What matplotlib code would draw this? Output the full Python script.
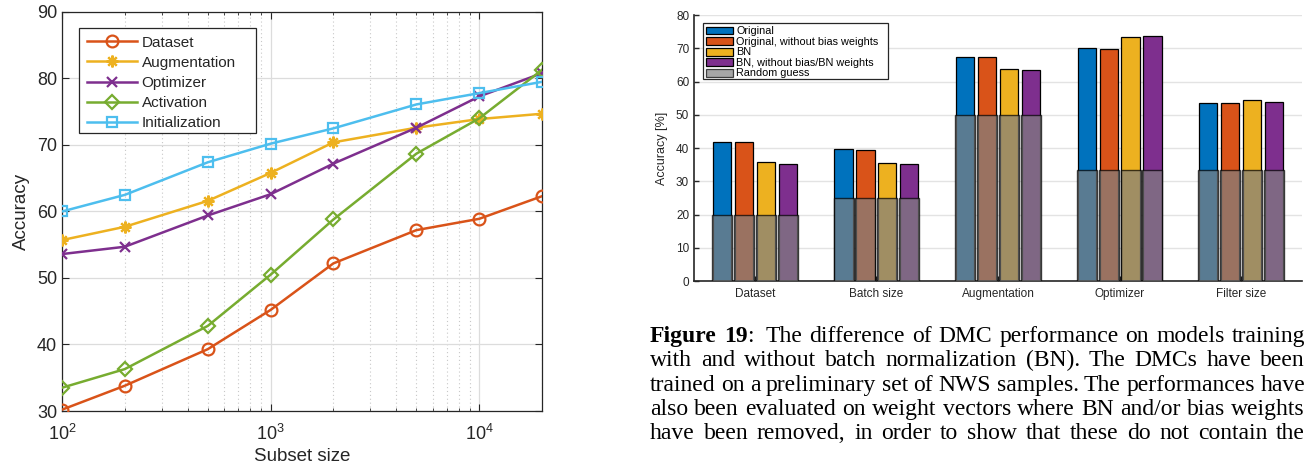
import matplotlib
matplotlib.use("Agg")
import matplotlib.pyplot as plt
from matplotlib.patches import Patch, Rectangle
from matplotlib.ticker import LogLocator, NullFormatter, FixedLocator

plt.rcParams['font.family'] = ['Liberation Sans', 'DejaVu Sans']
plt.rcParams['mathtext.fontset'] = 'custom'
plt.rcParams['mathtext.rm'] = 'Liberation Sans'
plt.rcParams['mathtext.it'] = 'Liberation Sans:italic'
plt.rcParams['mathtext.bf'] = 'Liberation Sans:bold'

# ---------------- data: accuracy vs. subset size ----------------
subset_sizes = [100, 200, 500, 1000, 2000, 5000, 10000, 20000]
acc_dataset = [30.2, 33.8, 39.3, 45.2, 52.2, 57.2, 58.9, 62.3]
acc_augmentation = [55.7, 57.7, 61.6, 65.8, 70.4, 72.6, 73.9, 74.7]
acc_optimizer = [53.6, 54.7, 59.4, 62.6, 67.2, 72.6, 77.3, 80.8]
acc_activation = [33.5, 36.3, 42.8, 50.5, 58.8, 68.7, 74.0, 81.3]
acc_initialization = [60.0, 62.5, 67.4, 70.2, 72.5, 76.1, 77.8, 79.5]
line_labels = ['Dataset', 'Augmentation', 'Optimizer', 'Activation', 'Initialization']

# ---------------- data: batch normalization comparison ----------------
hyperparams = ['Dataset', 'Batch size', 'Augmentation', 'Optimizer', 'Filter size']
acc_original = [41.9, 39.7, 67.3, 70.0, 53.4]
acc_original_nobias = [41.8, 39.5, 67.3, 69.9, 53.4]
acc_bn = [35.7, 35.4, 63.8, 73.5, 54.5]
acc_bn_nobias = [35.2, 35.1, 63.5, 73.7, 53.7]
random_guess = [20.0, 25.0, 50.0, 33.3, 33.3]
bar_labels = ['Original', 'Original, without bias weights', 'BN',
              'BN, without bias/BN weights', 'Random guess']

caption_lines = [
    "Figure 19: The difference of DMC performance on models training",
    "with and without batch normalization (BN). The DMCs have been",
    "trained on a preliminary set of NWS samples. The performances have",
    "also been evaluated on weight vectors where BN and/or bias weights",
    "have been removed, in order to show that these do not contain the",
]

W, H = 1314, 469
fig = plt.figure(figsize=(W / 100, H / 100), dpi=100)

AX_COLOR = '#262626'
C_BLUE, C_ORANGE, C_YELLOW, C_PURPLE = '#0072BD', '#D95319', '#EDB120', '#7E2F8E'
C_GREEN, C_CYAN = '#77AC30', '#4DBEEE'


def px_rect(x0, y0, x1, y1):
    return [x0 / W, 1 - y1 / H, (x1 - x0) / W, (y1 - y0) / H]


def legend_box(ax, x0, y0, x1, y1, lw=0.9):
    # rectangular legend frame given in pixel coordinates (top-left origin)
    ax.add_patch(Rectangle((x0 / W, 1 - y1 / H), (x1 - x0) / W, (y1 - y0) / H,
                           transform=fig.transFigure, facecolor='white',
                           edgecolor=AX_COLOR, linewidth=lw, zorder=4, clip_on=False))


# ================= left panel =================
ax1 = fig.add_axes(px_rect(62, 12, 542, 411))
series = [
    (acc_dataset, C_ORANGE, 'o', 8.5),
    (acc_augmentation, C_YELLOW, (8, 2, 0), 8.5),
    (acc_optimizer, C_PURPLE, 'x', 6.5),
    (acc_activation, C_GREEN, 'D', 7.0),
    (acc_initialization, C_CYAN, 's', 7.0),
]
for (vals, col, mk, ms), lab in zip(series, line_labels):
    ax1.plot(subset_sizes, vals, color=col, lw=1.8, marker=mk, ms=ms,
             mfc='none', mec=col, mew=1.6, label=lab, zorder=3)

ax1.set_xscale('log')
ax1.set_xlim(100, 20000)
ax1.set_ylim(30, 90)
ax1.set_yticks(range(30, 91, 10))
ax1.xaxis.set_major_locator(FixedLocator([1e2, 1e3, 1e4]))
ax1.set_xticklabels(['$10^{2}$', '$10^{3}$', '$10^{4}$'])
ax1.xaxis.set_minor_locator(LogLocator(base=10, subs=range(2, 10), numticks=20))
ax1.xaxis.set_minor_formatter(NullFormatter())
ax1.grid(True, which='major', color='#DCDCDC', lw=0.9, ls='-', zorder=0)
ax1.grid(True, which='minor', axis='x', color='#C8C8C8', lw=0.8, ls=(0, (1, 2.5)), zorder=0)
ax1.set_axisbelow(True)
ax1.tick_params(which='both', direction='in', top=True, right=True, color=AX_COLOR,
                labelcolor=AX_COLOR, labelsize=13)
ax1.tick_params(which='major', length=5, width=0.8)
ax1.tick_params(which='minor', length=2.5, width=0.6)
ax1.tick_params(axis='x', which='major', pad=9)
for sp in ax1.spines.values():
    sp.set_color(AX_COLOR)
    sp.set_linewidth(0.9)
ax1.set_xlabel('Subset size', fontsize=13.5, color=AX_COLOR, labelpad=3)
ax1.set_ylabel('Accuracy', fontsize=13.5, color=AX_COLOR, labelpad=5)

legend_box(ax1, 79, 28, 256, 133)
leg1 = ax1.legend(loc='upper left', bbox_to_anchor=(79 / W, 1 - 28 / H),
                  bbox_transform=fig.transFigure, borderaxespad=0, fontsize=11,
                  handlelength=3.3, handletextpad=0.3, labelspacing=0.4,
                  borderpad=0.5, frameon=False)
leg1.set_zorder(5)
for t in leg1.get_texts():
    t.set_color(AX_COLOR)

# ================= right panel =================
ax2 = fig.add_axes(px_rect(694, 15, 1302, 281))
xpos = list(range(1, len(hyperparams) + 1))
offsets = [-0.27, -0.09, 0.09, 0.27]
bar_w = 0.15
for vals, col, off, lab in zip([acc_original, acc_original_nobias, acc_bn, acc_bn_nobias],
                               [C_BLUE, C_ORANGE, C_YELLOW, C_PURPLE], offsets, bar_labels):
    ax2.bar([x + off for x in xpos], vals, width=bar_w, color=col,
            edgecolor='black', linewidth=0.9, zorder=2, label=lab)
for off in offsets:
    ax2.bar([x + off for x in xpos], random_guess, width=0.165, color='#808080',
            alpha=0.7, edgecolor='black', linewidth=1.0, zorder=3)

ax2.set_xlim(0.5, 5.5)
ax2.set_ylim(0, 80)
ax2.set_yticks(range(0, 81, 10))
ax2.set_xticks(xpos)
ax2.set_xticklabels(hyperparams)
ax2.yaxis.grid(True, color='#E3E3E3', lw=1.0, zorder=0)
ax2.set_axisbelow(True)
ax2.tick_params(direction='in', length=3.5, width=1.0, color=AX_COLOR,
                labelcolor=AX_COLOR, labelsize=8.5)
ax2.tick_params(axis='x', pad=5)
for side in ('top', 'right'):
    ax2.spines[side].set_visible(False)
for side in ('left', 'bottom'):
    ax2.spines[side].set_color(AX_COLOR)
    ax2.spines[side].set_linewidth(1.2)
ax2.set_ylabel('Accuracy [%]', fontsize=9, color=AX_COLOR, labelpad=6)

handles = [Patch(facecolor=c, edgecolor='black', linewidth=0.9)
           for c in (C_BLUE, C_ORANGE, C_YELLOW, C_PURPLE)]
handles.append(Patch(facecolor='#808080', alpha=0.7, edgecolor='black', linewidth=0.9))
legend_box(ax2, 703, 23, 888, 79)
leg2 = ax2.legend(handles, bar_labels, loc='upper left',
                  bbox_to_anchor=(703 / W, 1 - 23 / H), bbox_transform=fig.transFigure,
                  borderaxespad=0, fontsize=7.8, handlelength=2.5, handleheight=0.75,
                  handletextpad=0.25, labelspacing=0.05, borderpad=0.3, frameon=False)
leg2.set_zorder(5)
for t in leg2.get_texts():
    t.set_color('black')

# ================= justified caption =================
renderer = fig.canvas.get_renderer()
CAP_FONT = dict(family=['Liberation Serif', 'DejaVu Serif'], fontsize=17, color='black')
x_left, x_right = 650, 1305
baselines = [342, 366, 391, 415, 439]


def place_line(text, y_px, first=False):
    words = text.split(' ')
    runs = []  # each word is a list of (string, weight)
    for i, w in enumerate(words):
        if first and i == 0:
            runs.append([('Figure', 'bold')])
        elif first and i == 1:
            runs.append([('19', 'bold'), (':', 'normal')])
        else:
            runs.append([(w, 'normal')])
    gap_w = [1.0] * (len(runs) - 1)
    if first:
        gap_w[1] = 1.6
    items = []
    widths = []
    for word in runs:
        parts = []
        wsum = 0.0
        for s, wt in word:
            t = fig.text(0, 1 - y_px / H, s, fontweight=wt, va='baseline', ha='left', **CAP_FONT)
            wpx = t.get_window_extent(renderer).width
            parts.append((t, wpx))
            wsum += wpx
        items.append(parts)
        widths.append(wsum)
    free = (x_right - x_left) - sum(widths)
    unit = free / sum(gap_w)
    x = x_left
    for i, parts in enumerate(items):
        for t, wpx in parts:
            t.set_x(x / W)
            x += wpx
        if i < len(gap_w):
            x += unit * gap_w[i]


for i, (line, yb) in enumerate(zip(caption_lines, baselines)):
    place_line(line, yb, first=(i == 0))

fig.savefig('out.png', dpi=100)
